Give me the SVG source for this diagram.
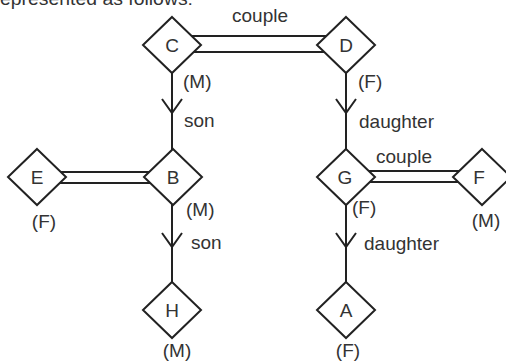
<svg xmlns="http://www.w3.org/2000/svg" width="506" height="362" viewBox="0 0 506 362">
<style>
.bg{fill:#fff}
.dia{fill:#fff;stroke:#222;stroke-width:2;stroke-linejoin:miter}
.ln{fill:none;stroke:#222;stroke-width:2}
.t{font-family:"Liberation Sans",Arial,sans-serif;font-size:19px;fill:#333}
.c{text-anchor:middle}
</style>
<defs>
<polygon id="d" points="0,-28 29,0 0,28 -29,0"/>
</defs>
<rect class="bg" width="506" height="362"/>
<text class="t" x="0" y="5" textLength="193" lengthAdjust="spacingAndGlyphs">epresented as follows:</text>
<g id="connectors">
<line class="ln" x1="172" y1="36" x2="346" y2="36"/>
<line class="ln" x1="172" y1="52" x2="346" y2="52"/>
<line class="ln" x1="37" y1="172" x2="172" y2="172"/>
<line class="ln" x1="37" y1="183" x2="172" y2="183"/>
<line class="ln" x1="346" y1="171" x2="482" y2="171"/>
<line class="ln" x1="346" y1="182" x2="482" y2="182"/>
<line class="ln" x1="172" y1="73" x2="172" y2="282"/>
<line class="ln" x1="346" y1="73" x2="346" y2="282"/>
<polyline class="ln" points="162,99 172,113 182,99"/>
<polyline class="ln" points="336,99 346,113 356,99"/>
<polyline class="ln" points="162,233 172,247 182,233"/>
<polyline class="ln" points="336,233 346,247 356,233"/>
<text class="t c" x="260" y="22">couple</text>
<text class="t" x="184" y="127">son</text>
<text class="t" x="359" y="128">daughter</text>
<text class="t c" x="404" y="163">couple</text>
<text class="t" x="191" y="249">son</text>
<text class="t" x="364" y="250">daughter</text>
</g>
<g id="node-C">
<use href="#d" class="dia" x="172" y="45"/>
<text class="t c" x="172" y="52">C</text>
<text class="t" x="183" y="88">(M)</text>
</g>
<g id="node-D">
<use href="#d" class="dia" x="346" y="45"/>
<text class="t c" x="346" y="52">D</text>
<text class="t" x="358" y="88">(F)</text>
</g>
<g id="node-E">
<use href="#d" class="dia" x="37" y="177"/>
<text class="t c" x="37" y="184">E</text>
<text class="t c" x="44" y="228">(F)</text>
</g>
<g id="node-B">
<use href="#d" class="dia" x="173" y="177"/>
<text class="t c" x="173" y="184">B</text>
<text class="t" x="186" y="216">(M)</text>
</g>
<g id="node-G">
<use href="#d" class="dia" x="346" y="177"/>
<text class="t c" x="345" y="184">G</text>
<text class="t" x="352" y="214">(F)</text>
</g>
<g id="node-F">
<use href="#d" class="dia" x="482" y="177"/>
<text class="t c" x="479" y="184">F</text>
<text class="t c" x="486" y="227">(M)</text>
</g>
<g id="node-H">
<use href="#d" class="dia" x="172" y="310"/>
<text class="t c" x="172" y="317">H</text>
<text class="t c" x="177" y="357">(M)</text>
</g>
<g id="node-A">
<use href="#d" class="dia" x="346" y="310"/>
<text class="t c" x="346" y="317">A</text>
<text class="t c" x="348" y="357">(F)</text>
</g>
</svg>
